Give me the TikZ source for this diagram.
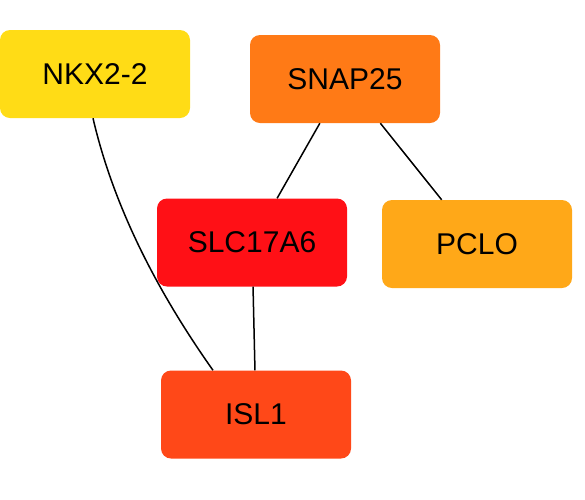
\documentclass[tikz,border=0pt]{standalone}
\usepackage{fontspec}
\setmainfont{Liberation Sans}
\definecolor{cNKX}{HTML}{FFDC16}
\definecolor{cSNAP}{HTML}{FF7A16}
\definecolor{cSLC}{HTML}{FF1016}
\definecolor{cPCLO}{HTML}{FFA818}
\definecolor{cISL}{HTML}{FF4818}
\tikzset{
  gene/.style={rectangle, rounded corners=10pt, minimum width=190pt, minimum height=88pt,
    inner sep=0pt, font=\fontsize{30}{36}\selectfont, text=black},
  edge/.style={draw=black, line width=1.5pt}
}
\begin{document}
\begin{tikzpicture}[x=1pt,y=-1pt]
\useasboundingbox (0,0) rectangle (585,499);
\node[gene, fill=cNKX] (nkx) at (95,74) {NKX2-2};
\node[gene, fill=cSNAP] (snap) at (345,79) {SNAP25};
\node[gene, fill=cSLC] (slc) at (252,242.5) {SLC17A6};
\node[gene, fill=cPCLO] (pclo) at (477,244) {PCLO};
\node[gene, fill=cISL] (isl) at (256,414.5) {ISL1};
\draw[edge] (snap) -- (slc);
\draw[edge] (snap) -- (pclo);
\draw[edge] (slc) -- (isl);
\draw[edge] ([xshift=-2pt]nkx.south) .. controls (112,200) and (152,284) .. ([xshift=-43pt]isl.north);
\end{tikzpicture}
\end{document}
